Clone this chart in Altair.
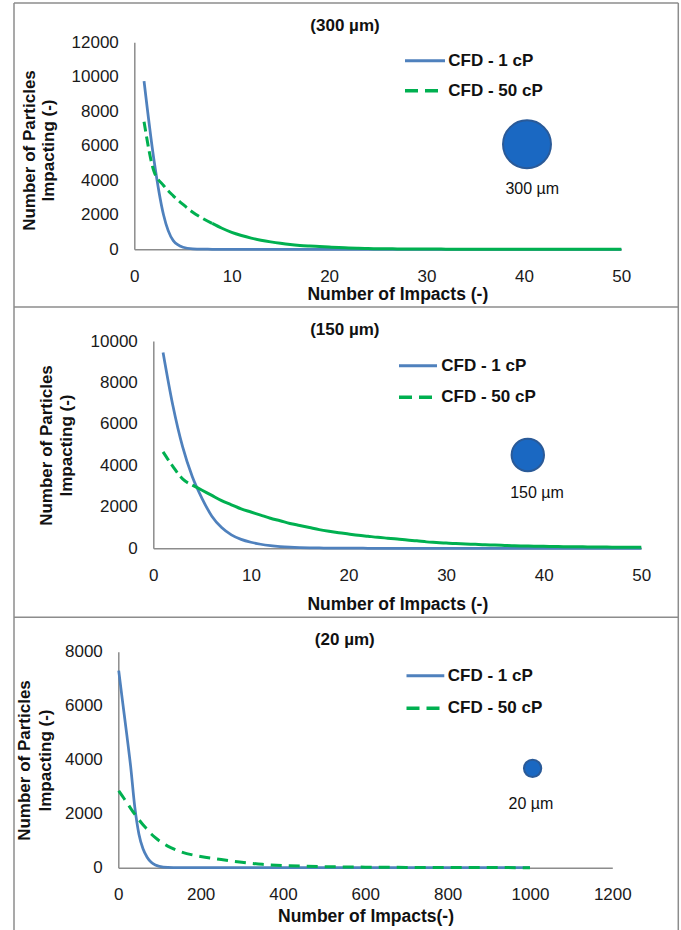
import altair as alt
import pandas as pd

FONT = "Liberation Sans"
BLUE = "#4F81BD"
GREEN = "#00B050"
GRAY = "#8C8C8C"
CIRCLE_FILL = "#1A68C2"
CIRCLE_STROKE = "#2A5A98"
PAGE_W, PAGE_H = 681, 930

# ---------------- data ----------------
# Panel 1: 300 µm
x300 = [1, 2, 3, 4, 5, 6, 7, 8, 9, 10, 11, 12, 13, 14, 15, 16, 17, 18, 19, 20,
        21, 22, 23, 24, 25, 26, 27, 28, 29, 30, 31, 32, 33, 34, 35, 36, 37, 38, 39, 40,
        41, 42, 43, 44, 45, 46, 47, 48, 49, 50]
blue300 = [9750, 5250, 2000, 500, 120, 25, 6, 2, 1, 0, 0, 0, 0, 0, 0, 0, 0, 0, 0, 0,
           0, 0, 0, 0, 0, 0, 0, 0, 0, 0, 0, 0, 0, 0, 0, 0, 0, 0, 0, 0,
           0, 0, 0, 0, 0, 0, 0, 0, 0, 0]
green300 = [7400, 4550, 3700, 3100, 2600, 2150, 1800, 1500, 1220, 980,
            800, 650, 530, 430, 345, 275, 225, 190, 160, 130,
            100, 80, 60, 45, 35, 28, 22, 18, 15, 13,
            11, 10, 9, 8, 7, 6, 6, 5, 5, 4,
            4, 4, 3, 3, 3, 3, 2, 2, 2, 2]

# Panel 2: 150 µm
x150 = [1, 2, 3, 4, 5, 6, 7, 8, 9, 10, 11, 12, 13, 14, 15, 16, 17, 18, 19, 20,
        21, 22, 23, 24, 25, 26, 27, 28, 29, 30, 31, 32, 33, 34, 35, 36, 37, 38, 39, 40,
        41, 42, 43, 44, 45, 46, 47, 48, 49, 50]
blue150 = [9450, 6900, 4900, 3450, 2400, 1550, 1000, 650, 430, 290,
           195, 130, 85, 55, 35, 22, 15, 10, 7, 5,
           3, 2, 1, 1, 0, 0, 0, 0, 0, 0, 0, 0, 0, 0, 0, 0, 0, 0, 0, 0,
           0, 0, 0, 0, 0, 0, 0, 0, 0, 0]
green150 = [4650, 3950, 3350, 3050, 2800, 2550, 2300, 2100, 1900, 1750,
            1600, 1450, 1330, 1200, 1100, 1000, 900, 820, 750, 690,
            630, 580, 530, 490, 450, 400, 360, 310, 280, 250,
            230, 210, 190, 170, 160, 140, 120, 110, 100, 95,
            90, 80, 75, 70, 65, 60, 55, 52, 50, 48]

# Panel 3: 20 µm
x20 = [1, 10, 20, 30, 40, 50, 60, 70, 80, 90, 100, 120, 150, 200, 250, 300, 350,
       400, 450, 500, 600, 700, 800, 900, 1000]
blue20 = [7300, 6200, 5000, 3750, 2250, 1250, 700, 390, 200, 100, 50, 12, 3, 1, 0,
          0, 0, 0, 0, 0, 0, 0, 0, 0, 0]
green20 = [2850, 2650, 2430, 2200, 1980, 1780, 1590, 1420, 1250, 1110, 990, 800, 600,
           415, 300, 200, 125, 80, 55, 38, 20, 12, 7, 4, 2]

series_names = ["CFD - 1 cP", "CFD - 50 cP"]
panel_titles = ["(300 µm)", "(150 µm)", "(20 µm)"]
size_labels = ["300 µm", "150 µm", "20 µm"]
x_titles = ["Number of Impacts (-)", "Number of Impacts (-)", "Number of Impacts(-)"]
y_title_lines = ["Number of Particles", "Impacting (-)"]

ONE = pd.DataFrame({"k": [0]})


def txt(s, x, y, size=17, bold=True, angle=None, align="center"):
    kw = dict(font=FONT, fontSize=size, fontWeight="bold" if bold else "normal",
              align=align, baseline="middle", color="#111111")
    if angle is not None:
        kw["angle"] = angle
    return alt.Chart(ONE).mark_text(**kw).encode(
        x=alt.value(x), y=alt.value(y), text=alt.value(s))


def hrule(x1, x2, y, color, width, dash=None):
    kw = dict(color=color, strokeWidth=width)
    if dash is not None:
        kw["strokeDash"] = dash
    return alt.Chart(ONE).mark_rule(**kw).encode(
        x=alt.value(x1), x2=alt.value(x2), y=alt.value(y))


def vrule(x, y1, y2, color, width):
    return alt.Chart(ONE).mark_rule(color=color, strokeWidth=width).encode(
        x=alt.value(x), y=alt.value(y1), y2=alt.value(y2))


def panel(xs, blue, green, dash_until, green_dash, xdom, xstep, ydom, ystep,
          xrange_px, yrange_px):
    df = pd.DataFrame({"x": xs, "b": blue, "g": green})
    x_left, x_right = xrange_px
    y_bottom, y_top = yrange_px
    xenc = alt.X("x:Q",
                 scale=alt.Scale(domain=xdom, range=[x_left, x_right],
                                 nice=False, zero=False),
                 axis=alt.Axis(orient="bottom", offset=y_bottom - PAGE_H,
                               values=list(range(xdom[0], xdom[1] + 1, xstep)),
                               format="d", title=None, grid=False, ticks=False,
                               tickSize=0, labelPadding=27, labelBaseline="middle",
                               labelFlush=False, labelOverlap=False,
                               labelFont=FONT, labelFontSize=17,
                               labelColor="#1a1a1a", domainColor=GRAY,
                               domainWidth=1.5))
    yscale = alt.Scale(domain=ydom, range=[y_bottom, y_top], nice=False, zero=False)
    yaxis = alt.Axis(orient="left", offset=-x_left,
                     values=list(range(ydom[0], ydom[1] + 1, ystep)),
                     format="d", title=None, grid=False, ticks=False, tickSize=0,
                     labelPadding=16, labelFlush=False, labelOverlap=False,
                     labelFont=FONT, labelFontSize=17, labelColor="#1a1a1a",
                     domainColor=GRAY, domainWidth=1.5)

    layers = [alt.Chart(df).mark_line(color=BLUE, strokeWidth=2.75,
                                      interpolate="monotone").encode(
        x=xenc, y=alt.Y("b:Q", scale=yscale, axis=yaxis))]
    dashed = df[df["x"] <= dash_until]
    layers.append(alt.Chart(dashed).mark_line(
        color=GREEN, strokeWidth=3, strokeDash=green_dash,
        interpolate="monotone").encode(
        x=xenc, y=alt.Y("g:Q", scale=yscale, axis=yaxis)))
    solid = df[df["x"] >= dash_until]
    if len(solid) > 1:
        layers.append(alt.Chart(solid).mark_line(
            color=GREEN, strokeWidth=3, interpolate="monotone").encode(
            x=xenc, y=alt.Y("g:Q", scale=yscale, axis=yaxis)))
    return alt.layer(*layers)


p1 = panel(x300, blue300, green300, 8, [10, 5], [0, 50], 10, [0, 12000], 2000,
           (134.3, 621.3), (249.3, 42.3))
p2 = panel(x150, blue150, green150, 4, [10, 5], [0, 50], 10, [0, 10000], 2000,
           (153.3, 641.3), (548.3, 341))
p3 = panel(x20, blue20, green20, 1000, [11, 7], [0, 1200], 200, [0, 8000], 2000,
           (118.3, 612.3), (867.7, 651.7))

deco = []
# frames
for yy in [3, 307, 617.3]:
    deco.append(hrule(14, 678.3, yy, GRAY, 1.5))
deco.append(vrule(14, 3, 935, GRAY, 1.5))
deco.append(vrule(678.3, 3, 935, GRAY, 1.5))

# panel titles
title_pos = [(345, 25.5), (344.8, 329.5), (344.8, 640)]
# legends: (x1, x2, y_blue, y_green, text_x)
legend_pos = [(405, 445, 60.7, 90.7, 448.3), (399, 437, 365.7, 397.3, 441.3),
              (406.5, 444.3, 675.7, 708.3, 447.8)]
circle_pos = [(527, 144.3, 2300), (527.8, 455, 1050), (532.6, 768.3, 300)]
circle_lab = [(532.3, 189), (537, 492.7), (531, 804)]
ytitle_pos = [(30.4, 48.7, 150.5), (47, 67.4, 445.5), (25.2, 45.7, 760.5)]
xtitle_pos = [(397.8, 295), (397.8, 605), (366, 917)]

for i in range(3):
    deco.append(txt(panel_titles[i], *title_pos[i]))
    lx1, lx2, ly1, ly2, tx = legend_pos[i]
    deco.append(hrule(lx1, lx2, ly1, BLUE, 3))
    deco.append(hrule(lx1, lx2, ly2, GREEN, 3.5, [13, 7]))
    deco.append(txt(series_names[0], tx, ly1, align="left"))
    deco.append(txt(series_names[1], tx, ly2, align="left"))
    cx, cy, cs = circle_pos[i]
    deco.append(alt.Chart(ONE).mark_circle(
        size=cs, color=CIRCLE_FILL, opacity=1, stroke=CIRCLE_STROKE,
        strokeWidth=2).encode(x=alt.value(cx), y=alt.value(cy)))
    deco.append(txt(size_labels[i], *circle_lab[i], size=16, bold=False))
    a, b, c = ytitle_pos[i]
    deco.append(txt(y_title_lines[0], a, c, angle=270))
    deco.append(txt(y_title_lines[1], b, c, angle=270))
    deco.append(txt(x_titles[i], *xtitle_pos[i], size=17.5))

chart = alt.layer(p1, p2, p3, *deco).resolve_scale(
    x="independent", y="independent").resolve_axis(
    x="independent", y="independent").properties(
    width=PAGE_W, height=PAGE_H,
    autosize=alt.AutoSizeParams(type="none"),
    padding=0,
    background="white",
).configure_view(stroke=None)

chart.save("out.html", embed_options={"renderer": "svg", "actions": False})
